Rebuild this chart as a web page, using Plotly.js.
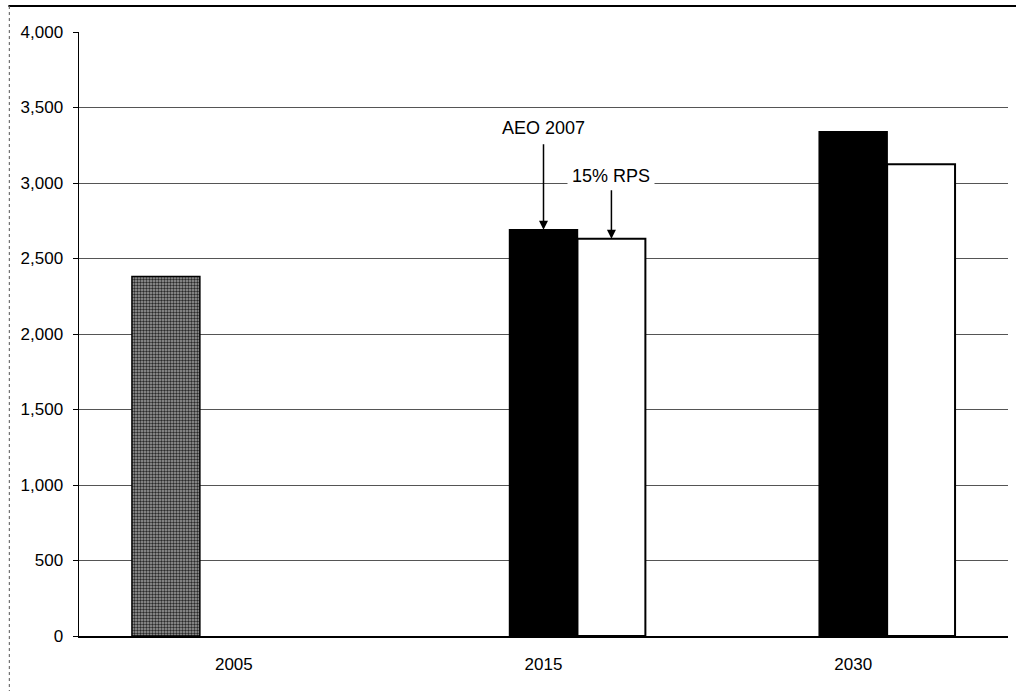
<!DOCTYPE html>
<html>
<head>
<meta charset="utf-8">
<script src="https://cdn.plot.ly/plotly-3.0.1.min.js"></script>
<style>
html,body{margin:0;padding:0;background:#fff;}
#chart{width:1016px;height:691px;}
</style>
</head>
<body>
<div id="chart"></div>
<script>
// Data
const categories = ['2005', '2015', '2030'];
const baseYears = ['2005'];
const baseValues = [2380];
const projYears = ['2015', '2030'];
const aeoValues = [2690, 3340];
const rpsValues = [2630, 3125];
const yTickVals = [0, 500, 1000, 1500, 2000, 2500, 3000, 3500, 4000];
const yTickText = ['0', '500', '1,000', '1,500', '2,000', '2,500', '3,000', '3,500', '4,000'];

const bargap = 0.342;
const barW = (1 - bargap) / 3;

const traces = [
  {
    type: 'bar', name: '2005', x: baseYears, y: baseValues,
    marker: {
      color: '#8c8c8c',
      line: {color: '#000', width: 1.5},
      pattern: {shape: '.', fgcolor: '#2a2a2a', bgcolor: '#a0a0a0', size: 3, solidity: 0.5}
    },
    hoverinfo: 'skip'
  },
  {
    type: 'bar', name: 'AEO 2007', x: projYears, y: aeoValues,
    marker: {color: '#000', line: {color: '#000', width: 1.5}},
    hoverinfo: 'skip'
  },
  {
    type: 'bar', name: '15% RPS', x: projYears, y: rpsValues,
    marker: {color: '#fff', line: {color: '#000', width: 2}},
    hoverinfo: 'skip'
  }
];

const fontFam = '"Liberation Sans", Arial, sans-serif';

const layout = {
  width: 1016, height: 691,
  margin: {l: 79, r: 8, t: 32, b: 55},
  paper_bgcolor: '#fff', plot_bgcolor: '#fff',
  showlegend: false,
  barmode: 'group', bargap: bargap, bargroupgap: 0,
  font: {family: fontFam, size: 17, color: '#000'},
  xaxis: {
    type: 'category', categoryorder: 'array', categoryarray: categories,
    range: [-0.5, 2.5],
    showline: true, linecolor: '#000', linewidth: 2,
    ticks: '', showgrid: false, zeroline: false,
    ticklabelstandoff: 12,
    tickfont: {family: fontFam, size: 17, color: '#000'}
  },
  yaxis: {
    range: [0, 4000], tickvals: yTickVals, ticktext: yTickText,
    showline: true, linecolor: '#000', linewidth: 1.5,
    ticks: 'outside', ticklen: 5, tickcolor: '#000',
    showgrid: true, gridcolor: '#555', gridwidth: 1,
    zeroline: false,
    ticklabelstandoff: 6,
    tickfont: {family: fontFam, size: 17, color: '#000'}
  },
  annotations: [
    {
      x: 1, y: aeoValues[0], xref: 'x', yref: 'y',
      text: 'AEO 2007', showarrow: true,
      ax: 0, ay: -102, axref: 'pixel', ayref: 'pixel',
      arrowhead: 2, arrowsize: 1.2, arrowwidth: 1.5, arrowcolor: '#000',
      borderpad: 6,
      font: {family: fontFam, size: 18, color: '#000'}
    },
    {
      x: 1 + barW, y: rpsValues[0], xref: 'x', yref: 'y',
      text: '15% RPS', showarrow: true,
      ax: 0, ay: -63, axref: 'pixel', ayref: 'pixel',
      arrowhead: 2, arrowsize: 1.2, arrowwidth: 1.5, arrowcolor: '#000',
      bgcolor: '#fff', borderpad: 4,
      font: {family: fontFam, size: 18, color: '#000'}
    }
  ],
  shapes: [
    {type: 'line', xref: 'paper', yref: 'paper', x0: -0.076, x1: 1.01, y0: 1.043, y1: 1.043,
     line: {color: '#000', width: 2}},
    {type: 'line', xref: 'paper', yref: 'paper', x0: -0.075, x1: -0.075, y0: 1.043, y1: -0.1,
     line: {color: '#555', width: 1, dash: 'dot'}}
  ]
};

Plotly.newPlot('chart', traces, layout, {staticPlot: true, displayModeBar: false});
</script>
</body>
</html>
